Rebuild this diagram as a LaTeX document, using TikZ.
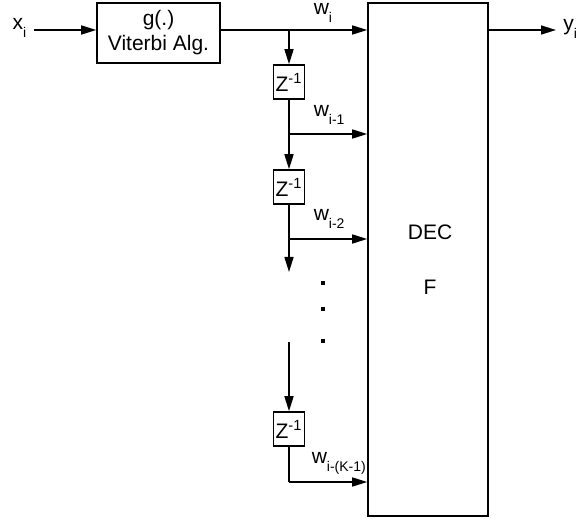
\documentclass[tikz,border=0pt]{standalone}
\usepackage{fontspec}
\setmainfont{Liberation Sans}
\usetikzlibrary{arrows.meta}
\newcommand\lowsub[1]{\raisebox{-4pt}{\scriptsize #1}}
\begin{document}
\begin{tikzpicture}[x=0.5pt,y=-0.5pt,line width=0.8pt,
  font=\fontsize{10.5}{12.5}\selectfont,
  >={Triangle[length=7.5pt,width=4.5pt]},
  blk/.style={draw,inner sep=0pt,align=center},
  zbox/.style={blk,minimum width=15.5pt,minimum height=17pt},
  lbl/.style={anchor=base west,inner sep=0pt},
  dot/.style={fill,inner sep=0pt,minimum size=2pt}]
  \useasboundingbox (0,0) rectangle (582,523);
  \node[anchor=base] (xi) at (19.5,30) {x\lowsub{i}};
  \node[blk,minimum width=61.5pt,minimum height=30pt] (g) at (158.5,33) {g(.)\\Viterbi Alg.};
  \node[blk,minimum width=60pt,minimum height=256.5pt] (dec) at (428,259.5) {};
  \node (dectxt) at (430,232) {DEC};
  \node (ftxt) at (430,287) {F};
  \node[anchor=base west] (yi) at (556,31) {y\lowsub{i}};
  \node[zbox] (z1) at (289,82) {Z\textsuperscript{-1}};
  \node[zbox] (z2) at (289,187) {Z\textsuperscript{-1}};
  \node[zbox] (z3) at (289,429) {Z\textsuperscript{-1}};
  \coordinate (w0) at (289,30);
  \coordinate (w1) at (289,134);
  \coordinate (w2) at (289,239);
  \coordinate (e2) at (289,272);
  \coordinate (s3) at (289,342);
  \coordinate (w3) at (289,482);
  \draw[->] (xi.east |- w0) -- (g.west |- w0);
  \draw (g.east |- w0) -- (w0);
  \draw[->] (w0) -- (dec.west |- w0);
  \draw[->] (dec.east |- w0) -- (yi.west |- w0);
  \draw[->] (w0) -- (z1);
  \draw (z1) -- (w1);
  \draw[->] (w1) -- (z2);
  \draw[->] (w1) -- (dec.west |- w1);
  \draw (z2) -- (w2);
  \draw[->] (w2) -- (e2);
  \draw[->] (w2) -- (dec.west |- w2);
  \draw[->] (s3) -- (z3);
  \draw (z3) -- (w3);
  \draw[->] (w3) -- (dec.west |- w3);
  \node[lbl] (l0) at (313,15) {w\lowsub{i}};
  \node[lbl] (l1) at (313,117) {w\lowsub{i-1}};
  \node[lbl] (l2) at (313,221) {w\lowsub{i-2}};
  \node[lbl] (l3) at (311,463) {w\lowsub{i-(K-1)}};
  \foreach \y in {283,309,341}
    \node[dot] at (323,\y) {};
\end{tikzpicture}
\end{document}
